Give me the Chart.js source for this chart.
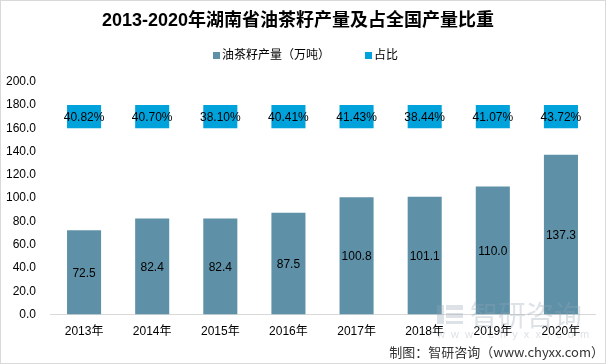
<!DOCTYPE html>
<html>
<head>
<meta charset="utf-8">
<script src="https://cdn.jsdelivr.net/npm/chart.js@4.4.0/dist/chart.umd.min.js"></script>
<style>
  html, body { margin: 0; padding: 0; background: #fff; }
  #wrap { position: relative; width: 604px; height: 362px; border: 1px solid #d9d9d9; }
</style>
</head>
<body>
<div id="wrap"><canvas id="c" width="604" height="362"></canvas></div>
<script>
// chart data
const years = ['2013年', '2014年', '2015年', '2016年', '2017年', '2018年', '2019年', '2020年'];
const output = [72.5, 82.4, 82.4, 87.5, 100.8, 101.1, 110.0, 137.3];
const share = ['40.82%', '40.70%', '38.10%', '40.41%', '41.43%', '38.44%', '41.07%', '43.72%'];
const yTicks = [0, 20, 40, 60, 80, 100, 120, 140, 160, 180, 200];

const FONT = '"Liberation Sans", "Noto Sans CJK SC", sans-serif';
const BAR_COLOR = '#5e91a8';
const SHARE_COLOR = '#00a2dc';

// value labels drawn in the middle of each bar
const labelPlugin = {
  id: 'barLabels',
  afterDatasetsDraw(chart) {
    const ctx = chart.ctx;
    ctx.save();
    ctx.font = '12px ' + FONT;
    ctx.fillStyle = '#000';
    ctx.textAlign = 'center';
    ctx.textBaseline = 'middle';
    chart.data.datasets.forEach((ds, i) => {
      const meta = chart.getDatasetMeta(i);
      meta.data.forEach((bar, j) => {
        const mid = (bar.y + bar.base) / 2;
        const txt = i === 0 ? output[j].toFixed(1) : share[j];
        ctx.fillText(txt, bar.x, mid + 1);
      });
    });
    ctx.restore();
  }
};

// legend, watermark and source note
const notePlugin = {
  id: 'note',
  afterDraw(chart) {
    const ctx = chart.ctx;
    const ds = chart.data.datasets;
    ctx.save();
    // legend
    ctx.font = '12px ' + FONT;
    ctx.textBaseline = 'middle';
    ctx.textAlign = 'left';
    ctx.fillStyle = BAR_COLOR;
    ctx.fillRect(212, 51, 7, 7);
    ctx.fillStyle = '#000';
    ctx.fillText(ds[0].label, 221, 55);
    ctx.fillStyle = SHARE_COLOR;
    ctx.fillRect(364, 51, 7, 7);
    ctx.fillStyle = '#000';
    ctx.fillText(ds[1].label, 373, 55);

    // watermark
    ctx.fillStyle = 'rgba(150,165,180,0.32)';
    ctx.fillRect(436, 304, 7, 19);
    ctx.fillRect(445, 304, 17, 5);
    ctx.fillRect(445, 312, 17, 5);
    ctx.fillRect(445, 320, 17, 3);
    ctx.font = '28px "Noto Sans CJK SC"';
    ctx.fillText('智研咨询', 469, 314);
    ctx.font = '11px ' + FONT;
    ctx.fillText('w  w  w  .  c  h  y  x  x  .  c  o  m', 436, 334);

    // source
    ctx.fillStyle = '#333';
    ctx.font = '13px "Noto Sans CJK SC"';
    ctx.textAlign = 'right';
    ctx.fillText('制图：智研咨询（www.chyxx.com）', 603, 351);
    ctx.restore();
  }
};

new Chart(document.getElementById('c'), {
  type: 'bar',
  data: {
    labels: years,
    datasets: [
      {
        label: '油茶籽产量（万吨）',
        data: output,
        backgroundColor: BAR_COLOR,
        barPercentage: 0.5,
        categoryPercentage: 1.0,
        grouped: false
      },
      {
        label: '占比',
        data: share.map(() => [160, 180]),
        backgroundColor: SHARE_COLOR,
        barPercentage: 0.5,
        categoryPercentage: 1.0,
        grouped: false
      }
    ]
  },
  options: {
    responsive: false,
    animation: false,
    layout: { padding: { left: 0, right: 10, top: 0, bottom: 14 } },
    plugins: {
      title: {
        display: true,
        text: '2013-2020年湖南省油茶籽产量及占全国产量比重',
        color: '#000',
        font: { family: FONT, size: 18, weight: 'bold' },
        padding: { top: 9, bottom: 50 }
      },
      legend: { display: false },
      tooltip: { enabled: false }
    },
    scales: {
      x: {
        grid: { display: false, drawTicks: false },
        border: { color: '#d9d9d9' },
        ticks: { color: '#000', font: { family: FONT, size: 12 }, padding: 10 }
      },
      y: {
        min: 0,
        max: 200,
        afterBuildTicks(axis) { axis.ticks = yTicks.map(v => ({ value: v })); },
        afterFit(axis) { axis.width = 49; },
        grid: { display: false, drawTicks: false },
        border: { display: false },
        ticks: {
          color: '#000',
          font: { family: FONT, size: 12 },
          padding: 14,
          callback: v => Number(v).toFixed(1)
        }
      }
    }
  },
  plugins: [labelPlugin, notePlugin]
});
</script>
</body>
</html>
